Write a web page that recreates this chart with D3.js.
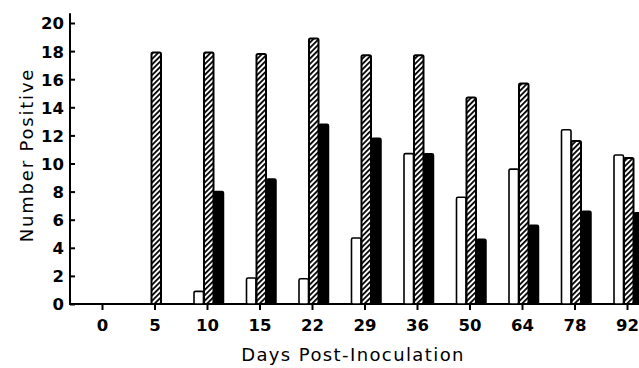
<!DOCTYPE html>
<html>
<head>
<meta charset="utf-8">
<script src="https://cdn.jsdelivr.net/npm/d3@7"></script>
<style>
  body { margin: 0; background: #fff; }
  svg { display: block; }
  .tick text { font-family: "DejaVu Sans", sans-serif; font-weight: bold; font-size: 16.5px; fill: #000; }
  .tick line { stroke: #000; stroke-width: 2px; }
  .title { font-family: "DejaVu Sans", sans-serif; font-size: 18px; fill: #000; }
</style>
</head>
<body>
<div id="chart"></div>
<script>
// data
var days = ["0", "5", "10", "15", "22", "29", "36", "50", "64", "78", "92"];
var whiteVals   = [0, 0, 0.9, 1.85, 1.8, 4.7, 10.7, 7.6, 9.6, 12.4, 10.6];
var hatchedVals = [0, 17.9, 17.9, 17.8, 18.9, 17.7, 17.7, 14.7, 15.7, 11.6, 10.4];
var blackVals   = [0, 0, 8.0, 8.9, 12.8, 11.8, 10.7, 4.6, 5.6, 6.6, 6.5];
var yTicks = [0, 2, 4, 6, 8, 10, 12, 14, 16, 18, 20];
var seriesNames = ["white", "hatched", "black"];

var margin = {top: 23, right: 0, bottom: 64, left: 70};
var width = 639 - margin.left - margin.right,
    height = 368 - margin.top - margin.bottom;

var svg = d3.select("#chart").append("svg")
    .attr("width", width + margin.left + margin.right)
    .attr("height", height + margin.top + margin.bottom);

// diagonal hatch
svg.append("defs").append("pattern")
    .attr("id", "hatch")
    .attr("patternUnits", "userSpaceOnUse")
    .attr("width", 3.8)
    .attr("height", 3.8)
    .attr("patternTransform", "rotate(45)")
    .call(function(p) {
      p.append("rect").attr("width", 3.8).attr("height", 3.8).attr("fill", "#fff");
      p.append("line").attr("x1", 0.9).attr("y1", 0).attr("x2", 0.9).attr("y2", 3.8)
        .attr("stroke", "#000").attr("stroke-width", 1.8);
    });

var g = svg.append("g")
    .attr("transform", "translate(" + margin.left + "," + margin.top + ")");

////// scales //////
var x = d3.scalePoint()
    .domain(days)
    .range([32, 557]);

var xSub = d3.scaleBand()
    .domain(seriesNames)
    .range([-13, 17]);

var y = d3.scaleLinear()
    .domain([0, 20])
    .range([height, 0]);

////// axes //////
var yAxis = d3.axisLeft(y)
    .tickValues(yTicks)
    .tickSizeInner(-5)
    .tickSizeOuter(0)
    .tickPadding(6);

var xAxis = d3.axisBottom(x)
    .tickSizeInner(6)
    .tickSizeOuter(0)
    .tickPadding(9);

var gy = g.append("g").attr("class", "y axis").call(yAxis);
gy.select(".domain").remove();
gy.selectAll(".tick text").attr("dy", "0.36em");

var gx = g.append("g").attr("class", "x axis")
    .attr("transform", "translate(0," + height + ")")
    .call(xAxis);
gx.select(".domain").remove();

// axis lines
g.append("line")
    .attr("x1", 0).attr("x2", 0)
    .attr("y1", y(0) + 1).attr("y2", y(20.7))
    .attr("stroke", "#000").attr("stroke-width", 2);
g.append("line")
    .attr("x1", -1).attr("x2", width)
    .attr("y1", y(0)).attr("y2", y(0))
    .attr("stroke", "#000").attr("stroke-width", 2);

////// bars //////
var rows = days.map(function(d, i) {
  return {day: d, white: whiteVals[i], hatched: hatchedVals[i], black: blackVals[i]};
});

var fills = {white: "#fff", hatched: "url(#hatch)", black: "#000"};
var strokeW = {white: 1.6, hatched: 2, black: 1.5};

g.append("g")
  .selectAll("g")
  .data(rows)
  .enter()
  .append("g")
  .attr("transform", function(d) { return "translate(" + x(d.day) + ",0)"; })
  .selectAll("rect")
  .data(function(d) {
    return seriesNames.map(function(k) { return {key: k, value: d[k]}; })
      .filter(function(s) { return s.value > 0; });
  })
  .enter()
  .append("rect")
  .attr("x", function(d) { return xSub(d.key); })
  .attr("width", xSub.bandwidth() - 0.5)
  .attr("y", function(d) { return y(d.value); })
  .attr("height", function(d) { return y(0) - y(d.value); })
  .attr("rx", 1.5)
  .attr("fill", function(d) { return fills[d.key]; })
  .attr("stroke", "#000")
  .attr("stroke-width", function(d) { return strokeW[d.key]; });

////// titles //////
g.append("text")
    .attr("class", "title")
    .attr("x", 283)
    .attr("y", height + 57)
    .attr("text-anchor", "middle")
    .style("letter-spacing", "1.4px")
    .text("Days Post-Inoculation");

svg.append("text")
    .attr("class", "title")
    .attr("transform", "translate(33,155) rotate(-90)")
    .attr("text-anchor", "middle")
    .style("letter-spacing", "1.8px")
    .text("Number Positive");
</script>
</body>
</html>
